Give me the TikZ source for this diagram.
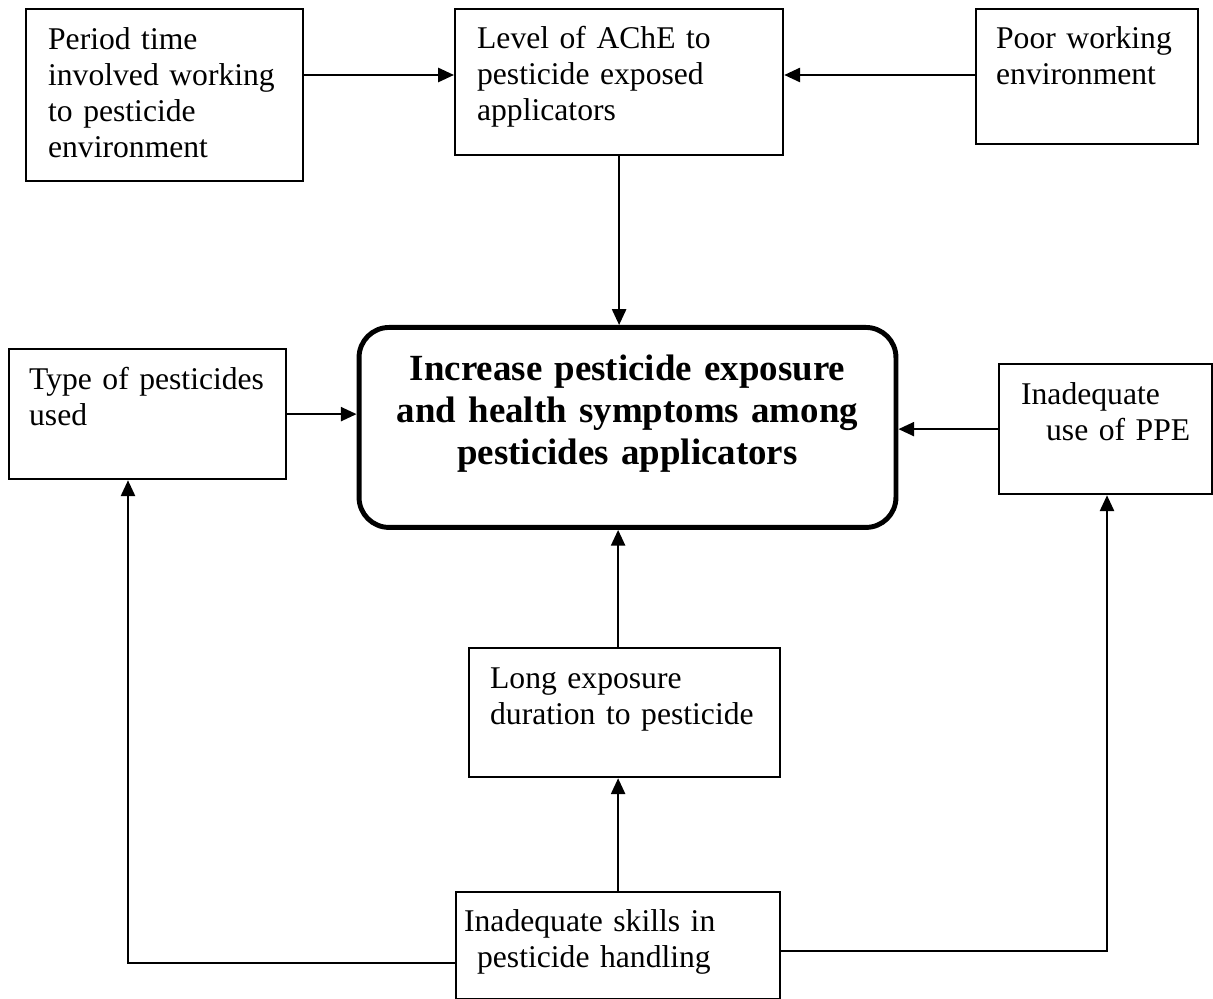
\documentclass[tikz,border=0pt]{standalone}
\usepackage{fontspec}
\setmainfont{Liberation Serif}
\usetikzlibrary{arrows.meta}

\begin{document}
\begin{tikzpicture}[x=0.02cm, y=-0.02cm,
    box/.style={draw, line width=1.3pt, anchor=north west, align=left, inner ysep=0pt,
        font=\fontsize{18pt}{20.5pt}\selectfont},
    arr/.style={line width=1.3pt, -{Triangle[length=9pt,width=8pt]}}]

    % Fix the page size
    \useasboundingbox (0,0) rectangle (1213,999);

    % Draw the boxes of the top row
    \node[box, inner xsep=0.44cm, text width=4.66cm, text height=0.8cm, text depth=2.64cm] (period) at (25,8)
        {Period time\\involved working\\to pesticide\\environment};
    \node[box, inner xsep=0.44cm, text width=5.68cm, text height=0.78cm, text depth=2.14cm] (level) at (454,8)
        {Level of AChE to\\pesticide exposed\\applicators};
    \node[box, inner xsep=0.4cm, text width=3.64cm, text height=0.78cm, text depth=1.92cm] (poor) at (975,8)
        {Poor working\\environment};

    % Draw the main box
    \node[box, anchor=north, align=center, inner xsep=0pt, line width=2.8pt, rounded corners=0.6cm,
        text width=10.74cm, text height=1.06cm, text depth=2.94cm,
        font=\fontsize{21pt}{24pt}\selectfont\bfseries] (central) at (627.5,325)
        {Increase pesticide exposure\\and health symptoms among\\pesticides applicators};

    % Draw the side boxes
    \node[box, inner xsep=0.4cm, text width=4.74cm, text height=0.8cm, text depth=1.8cm] (type) at (8,348)
        {\mbox{Type of pesticides}\\used};
    \node[box, inner xsep=0.44cm, text width=3.38cm, text height=0.8cm, text depth=1.8cm] (ppe) at (998,363)
        {Inadequate\\\hspace*{0.5cm}\mbox{use of PPE}};

    % Draw the bottom boxes
    \node[box, inner xsep=0.42cm, text width=5.38cm, text height=0.8cm, text depth=1.78cm] (long) at (468,647)
        {Long exposure\\duration to pesticide};
    \node[box, inner xsep=0.16cm, text width=6.16cm, text height=0.78cm, text depth=1.36cm] (skills) at (455,891)
        {Inadequate skills in\\\hspace*{0.26cm}pesticide handling};

    % Some coordinates for the connectors
    \coordinate (topline) at (0,75);
    \coordinate (bendleft) at (128,963);
    \coordinate (bendright) at (1107,951);

    % Draw the arrows
    \draw[arr] (period.east |- topline) -- (level.west |- topline);
    \draw[arr] (poor.west |- topline) -- (level.east |- topline);
    \draw[arr] (level.south) -- (level.south |- central.north);
    \draw[arr] (type.east) -- (type.east -| central.west);
    \draw[arr] (ppe.west) -- (ppe.west -| central.east);
    \draw[arr] (long.north -| skills.north) -- (central.south -| skills.north);
    \draw[arr] (skills.north) -- (long.south -| skills.north);
    \draw[arr] (skills.west |- bendleft) -- (bendleft) -- (type.south -| bendleft);
    \draw[arr] (skills.east |- bendright) -- (bendright) -- (ppe.south -| bendright);
\end{tikzpicture}
\end{document}
